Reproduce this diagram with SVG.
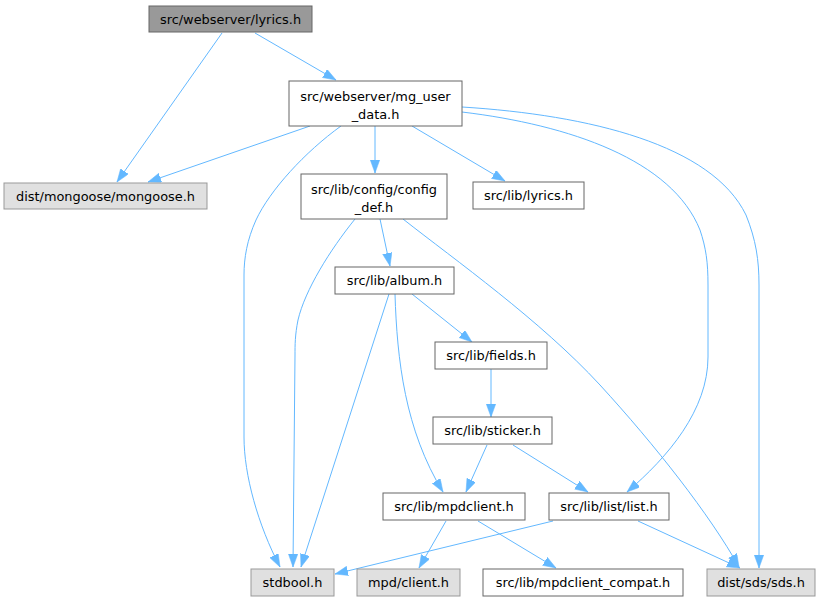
<svg xmlns="http://www.w3.org/2000/svg" width="819" height="602" viewBox="0 0 819 602">
<style>
.n rect{stroke-width:1}
.w rect{fill:#ffffff;stroke:#666666}
.g rect{fill:#e0e0e0;stroke:#999999}
.r rect{fill:#999999;stroke:#666666}
text{font-family:"DejaVu Sans","Liberation Sans",sans-serif;font-size:12.9px;fill:#000;text-anchor:middle}
#edges path{fill:none;stroke:#63b8ff;stroke-width:1;marker-end:url(#ah)}
</style>
<defs>
<marker id="ah" markerUnits="userSpaceOnUse" markerWidth="14" markerHeight="10" refX="13" refY="4.7" orient="auto">
<path d="M0,0 L13,4.7 L0,9.4 z" fill="#63b8ff" stroke="#63b8ff" stroke-width="0.5"/>
</marker>
</defs>
<rect width="819" height="602" fill="#ffffff"/>
<g id="edges">
<path d="M255,33 L336,80"/>
<path d="M222,33 L117,182"/>
<path d="M310,126 L148,182"/>
<path d="M375,126 L375,173"/>
<path d="M412,126 L505,181"/>
<path d="M341,126 C305,152 270,190 256,220 C247,240 244,258 244,275 L244,437 C244,475 258,525 280,567"/>
<path d="M462,112 C570,125 672,160 700,230 C706,248 708,262 708,285 L708,357 C708,410 668,457 627,492"/>
<path d="M462,107 C590,115 712,145 746,215 C756,240 759,260 759,285 L759,568"/>
<path d="M380,219 L390,266"/>
<path d="M355,219 C330,250 305,290 298,320 C295,335 295,345 295,355 L293,567"/>
<path d="M403,219 C455,260 540,320 600,385 C655,445 710,515 739,567"/>
<path d="M412,294 L472,342"/>
<path d="M389,294 L301,567"/>
<path d="M395,294 C397,360 405,430 443,492"/>
<path d="M491,369 L491,417"/>
<path d="M487,445 L466,492"/>
<path d="M513,445 L588,492"/>
<path d="M446,521 L419,568"/>
<path d="M478,521 L556,568"/>
<path d="M553,521 L335,574"/>
<path d="M638,521 L740,568"/>
</g>
<g id="n_lyrics_ws" class="n r"><rect x="149" y="6" width="163" height="26"/><text x="230.5" y="23.5">src/webserver/lyrics.h</text></g>
<g id="n_mg_user_data" class="n w"><rect x="289" y="81" width="173" height="45"/><text x="375.5" y="100.5">src/webserver/mg_user</text><text x="375.5" y="118.5">_data.h</text></g>
<g id="n_mongoose" class="n g"><rect x="4" y="183" width="203" height="26"/><text x="105.5" y="200.5">dist/mongoose/mongoose.h</text></g>
<g id="n_config_def" class="n w"><rect x="301" y="174" width="146" height="45"/><text x="374" y="193.5">src/lib/config/config</text><text x="374" y="211.5">_def.h</text></g>
<g id="n_lib_lyrics" class="n w"><rect x="473" y="182" width="111" height="27"/><text x="528.5" y="200">src/lib/lyrics.h</text></g>
<g id="n_album" class="n w"><rect x="335" y="267" width="119" height="27"/><text x="394.5" y="285">src/lib/album.h</text></g>
<g id="n_fields" class="n w"><rect x="435" y="342" width="112" height="27"/><text x="491" y="360">src/lib/fields.h</text></g>
<g id="n_sticker" class="n w"><rect x="433" y="417" width="119" height="27"/><text x="492.5" y="435">src/lib/sticker.h</text></g>
<g id="n_mpdclient" class="n w"><rect x="383" y="493" width="142" height="27"/><text x="454" y="511">src/lib/mpdclient.h</text></g>
<g id="n_list" class="n w"><rect x="549" y="493" width="120" height="27"/><text x="609" y="511">src/lib/list/list.h</text></g>
<g id="n_stdbool" class="n g"><rect x="251" y="569" width="83" height="27"/><text x="292.5" y="587">stdbool.h</text></g>
<g id="n_client" class="n g"><rect x="357" y="569" width="103" height="27"/><text x="408.5" y="587">mpd/client.h</text></g>
<g id="n_compat" class="n w"><rect x="483" y="569" width="200" height="27"/><text x="583" y="587">src/lib/mpdclient_compat.h</text></g>
<g id="n_sds" class="n g"><rect x="707" y="569" width="108" height="27"/><text x="761" y="587">dist/sds/sds.h</text></g>
</svg>
